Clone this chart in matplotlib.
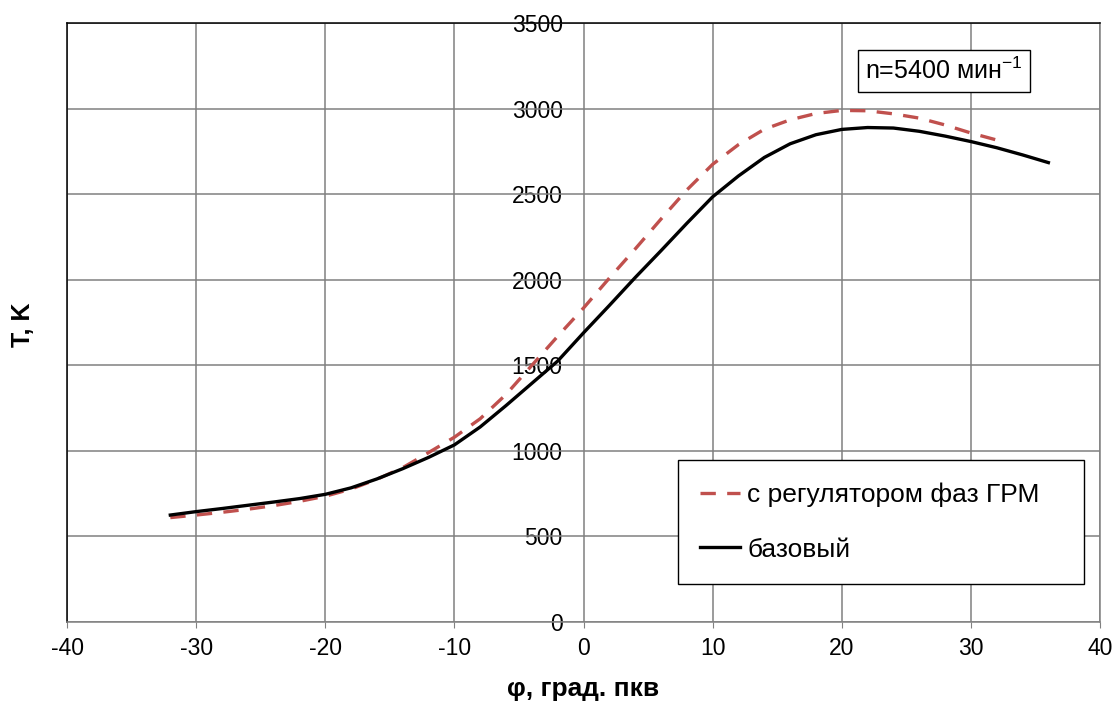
import matplotlib
matplotlib.use('Agg')
import matplotlib.pyplot as plt

plt.rcParams['font.family'] = ['Liberation Sans', 'DejaVu Sans']
plt.rcParams['mathtext.fontset'] = 'custom'
plt.rcParams['mathtext.rm'] = 'Liberation Sans'
plt.rcParams['axes.unicode_minus'] = False

# crank angle, deg, and temperature, K
phi_base = [-32, -30, -28, -26, -24, -22, -20, -18, -16, -14, -12, -10, -8, -6,
            -4, -2, 0, 2, 4, 6, 8, 10, 12, 14, 16, 18, 20, 22, 24, 26, 28, 30,
            32, 34, 36]
t_base = [625, 645, 663, 682, 701, 721, 746, 784, 836, 896, 962, 1035, 1140,
          1265, 1395, 1525, 1690, 1850, 2013, 2170, 2330, 2485, 2607, 2715,
          2795, 2848, 2879, 2890, 2887, 2868, 2840, 2808, 2772, 2730, 2685]

phi_vvt = [-32, -30, -28, -26, -24, -22, -20, -18, -16, -14, -12, -10, -8, -6,
           -4, -2, 0, 2, 4, 6, 8, 10, 12, 14, 16, 18, 20, 22, 24, 26, 28, 30,
           32]
t_vvt = [610, 625, 641, 659, 680, 705, 735, 777, 834, 902, 990, 1080, 1188,
         1330, 1500, 1670, 1835, 2010, 2180, 2355, 2525, 2675, 2790, 2880,
         2935, 2972, 2990, 2988, 2970, 2945, 2905, 2858, 2817]

x_ticks = list(range(-40, 41, 10))
y_ticks = list(range(0, 3501, 500))

fig = plt.figure(figsize=(11.17, 7.02), dpi=100)
ax = fig.add_axes([0.06, 0.114, 0.9248, 0.853])

ax.plot(phi_vvt, t_vvt, color='#C0504D', lw=2.4, dashes=(4.6, 3.4),
        label='с регулятором фаз ГРМ', zorder=3)
ax.plot(phi_base, t_base, color='black', lw=2.4, label='базовый', zorder=4)

ax.set_xlim(-40, 40)
ax.set_ylim(0, 3500)
ax.set_xticks(x_ticks)
ax.set_yticks(y_ticks)
ax.grid(True, color='#808080', lw=1.1)
ax.set_axisbelow(True)
for s in ax.spines.values():
    s.set_color('#808080')
    s.set_linewidth(1.1)
ax.spines['top'].set_color('black')
ax.spines['left'].set_color('black')
ax.tick_params(axis='x', labelsize=16.5, length=4, color='#808080', pad=7)
ax.tick_params(axis='y', left=False, labelleft=False)

# y tick labels sit at phi = 0
sec = ax.secondary_yaxis(0.5)
sec.set_yticks(y_ticks)
sec.yaxis.set_ticks_position('left')
sec.tick_params(left=True, labelleft=True, right=False, labelright=False,
                length=0, labelsize=16.5, pad=15)
for s in sec.spines.values():
    s.set_visible(False)

ax.set_xlabel('φ, град. пкв', fontsize=19, fontweight='bold', labelpad=12)
fig.text(0.021, 0.538, 'T, K', rotation=90, fontsize=18, fontweight='bold',
         ha='center', va='center')

ax.text(0.849, 0.92, 'n=5400 мин$^{-1}$', transform=ax.transAxes,
        fontsize=18, ha='center', va='center',
        bbox=dict(boxstyle='square,pad=0.3', fc='white', ec='black', lw=1))

leg = ax.legend(loc='lower left', bbox_to_anchor=(0.5915, 0.0634, 0.393, 0.204),
                mode='expand', fontsize=19, frameon=True, fancybox=False,
                edgecolor='black', handlelength=1.5, handletextpad=0.27,
                labelspacing=1.15, borderpad=0.85, borderaxespad=0)
leg.get_frame().set_linewidth(1.0)
leg.get_frame().set_alpha(1)

fig.savefig('out.png', dpi=100)
